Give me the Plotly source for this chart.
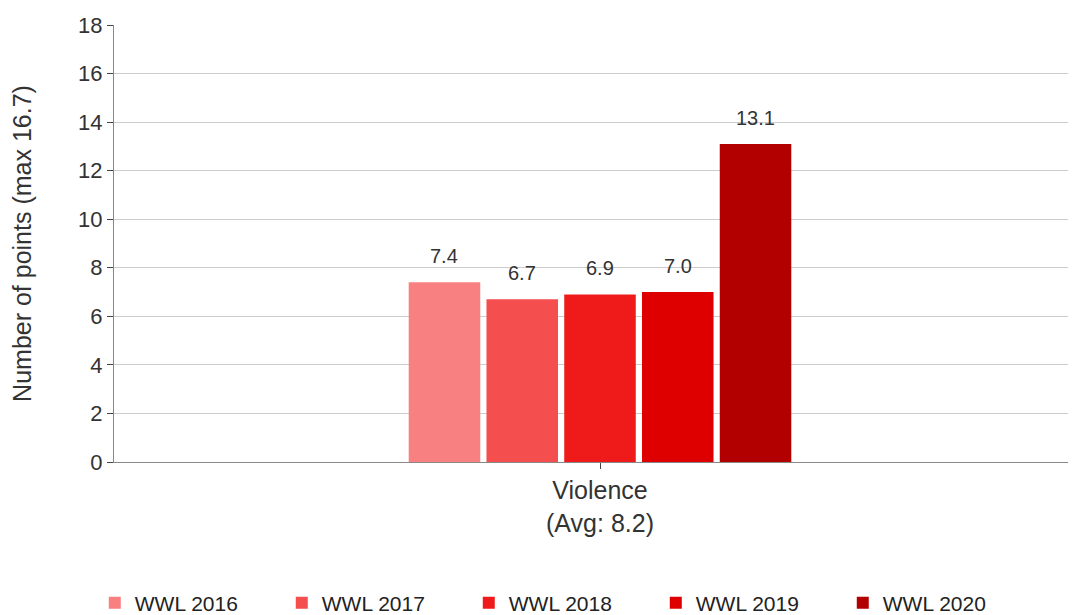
import plotly.graph_objects as go

categories = ["Violence<br>(Avg: 8.2)"]
series_names = ["WWL 2016", "WWL 2017", "WWL 2018", "WWL 2019", "WWL 2020"]
series_values = [[7.4], [6.7], [6.9], [7.0], [13.1]]
series_colors = ["#F98080", "#F54E4E", "#EF1B1B", "#DE0000", "#B20000"]
y_ticks = [0, 2, 4, 6, 8, 10, 12, 14, 16, 18]

BARGAP = 0.60
GROUPGAP = 0.08
n = len(series_names)
slot = (1 - BARGAP) / n
FONT = "Liberation Sans, Arial, sans-serif"

fig = go.Figure()
annotations = []
for i, (name, vals, col) in enumerate(zip(series_names, series_values, series_colors)):
    fig.add_trace(go.Bar(
        x=categories, y=vals, name=name,
        marker=dict(color=col, line=dict(width=0)),
    ))
    for ci, v in enumerate(vals):
        annotations.append(dict(
            x=ci + (i - (n - 1) / 2) * slot, y=v, xref="x", yref="y",
            text=f"{v:.1f}", showarrow=False, yanchor="middle", yshift=26,
            font=dict(family=FONT, size=20, color="#333333"),
        ))

# the page body adds an 8px offset; the plot area runs slightly past the right edge as in the reference
fig.update_layout(
    width=1078, height=607,
    margin=dict(l=106, r=0, t=17, b=153, autoexpand=False),
    paper_bgcolor="white", plot_bgcolor="white",
    barmode="group", bargap=BARGAP, bargroupgap=GROUPGAP,
    font=dict(family=FONT, size=18, color="#333333"),
    showlegend=True,
    annotations=annotations,
    legend=dict(
        orientation="h", xref="container", yref="container",
        x=0.0805, y=0.0198, xanchor="left", yanchor="middle",
        font=dict(family=FONT, size=21, color="#222222"),
        entrywidth=142, entrywidthmode="pixels",
        itemwidth=30, traceorder="normal",
    ),
    xaxis=dict(
        showline=True, linecolor="#888888", linewidth=1,
        ticks="outside", ticklen=6, tickcolor="#444444",
        showgrid=False, tickfont=dict(size=25, color="#333333"),
        automargin=False,
    ),
    yaxis=dict(
        range=[0, 18], tickvals=y_ticks,
        showline=True, linecolor="#888888", linewidth=1,
        ticks="outside", ticklen=6, tickcolor="#444444",
        showgrid=True, gridcolor="#CCCCCC", gridwidth=1,
        zeroline=False, automargin=False,
        tickfont=dict(size=22, color="#333333"),
        title=dict(text="Number of points (max 16.7)", font=dict(size=25, color="#333333"), standoff=50),
    ),
)

fig.write_html("out.html")
